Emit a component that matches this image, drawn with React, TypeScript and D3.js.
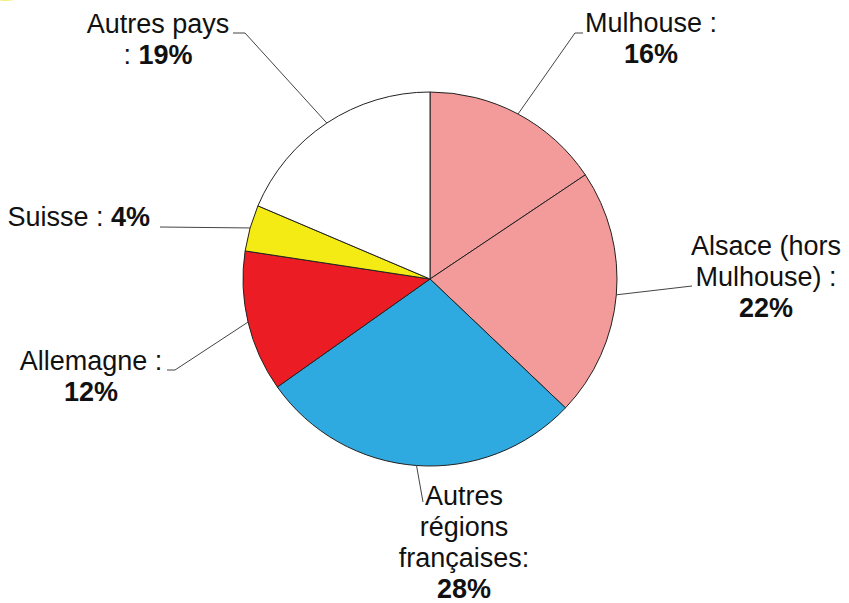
import React from "react";
import * as d3 from "d3";

const categories = [
  "Mulhouse",
  "Alsace (hors Mulhouse)",
  "Autres régions françaises",
  "Allemagne",
  "Suisse",
  "Autres pays",
];
const values = [15.6, 21.5, 28.1, 12.2, 4.0, 18.6];
const percentLabels = ["16%", "22%", "28%", "12%", "4%", "19%"];
const colors = ["#F39A9B", "#F39A9B", "#2FAAE1", "#EC1C24", "#F4EA14", "#FFFFFF"];

// label text lines (normal text part, bold part follows on last line or inline)
const labelLines: string[][] = [
  ["Mulhouse :", ""],
  ["Alsace (hors", "Mulhouse) :", ""],
  ["Autres", "régions", "françaises:", ""],
  ["Allemagne :", ""],
  ["Suisse : "],
  ["Autres pays", ": "],
];

const W = 849;
const H = 603;
const CX = 430;
const CY = 279;
const R = 187;
const FONT = "'Liberation Sans', Arial, Helvetica, sans-serif";
const FS = 27;
const LH = 31;

// layout for each label: text anchor position & leader path points after edge
const layout = [
  { x: 651, y: 32, anchor: "middle", leader: [[575, 33], [583, 33]] },
  { x: 766, y: 255, anchor: "middle", leader: [[692, 286]] },
  { x: 464, y: 505, anchor: "middle", leader: [[423, 502]] },
  { x: 91, y: 370, anchor: "middle", leader: [[175, 370], [167, 370]] },
  { x: 150, y: 226, anchor: "end", leader: [[160, 227]] },
  { x: 158, y: 33, anchor: "middle", leader: [[245, 33], [233, 33]] },
];

export default function App() {
  const pie = d3
    .pie<number>()
    .sort(null)
    .startAngle(0)
    .endAngle(2 * Math.PI)
    .value((d) => d);
  const arcs = pie(values);
  const arc = d3.arc<d3.PieArcDatum<number>>().innerRadius(0).outerRadius(R);
  const edgeArc = d3.arc<d3.PieArcDatum<number>>().innerRadius(R).outerRadius(R);
  const line = d3.line();

  return (
    <svg
      width={W}
      height={H}
      style={{ position: "absolute", left: 0, top: 0, background: "#fff" }}
      fontFamily={FONT}
    >
      <rect width={W} height={H} fill="#fff" />
      <ellipse cx={6} cy={-7} rx={16} ry={8} fill="#F2F07A" />
      <g transform={`translate(${CX},${CY})`}>
        {arcs.map((a, i) => (
          <path
            key={categories[i]}
            d={arc(a) || ""}
            fill={colors[i]}
            stroke="#222"
            strokeWidth={1}
          />
        ))}
      </g>
      {arcs.map((a, i) => {
        const [ex, ey] = edgeArc.centroid(a);
        const pts: [number, number][] = [
          [CX + ex, CY + ey],
          ...(layout[i].leader as [number, number][]),
        ];
        return (
          <path
            key={"l" + i}
            d={line(pts) || ""}
            fill="none"
            stroke="#444"
            strokeWidth={1}
          />
        );
      })}
      {labelLines.map((lines, i) => {
        const L = layout[i];
        return (
          <text
            key={"t" + i}
            x={L.x}
            y={L.y}
            textAnchor={L.anchor as any}
            fontSize={FS}
            fill="#111"
          >
            {lines.map((ln, j) => {
              const last = j === lines.length - 1;
              return (
                <tspan key={j} x={L.x} dy={j === 0 ? 0 : LH}>
                  {ln}
                  {last && (
                    <tspan fontWeight="bold">{percentLabels[i]}</tspan>
                  )}
                </tspan>
              );
            })}
          </text>
        );
      })}
    </svg>
  );
}
